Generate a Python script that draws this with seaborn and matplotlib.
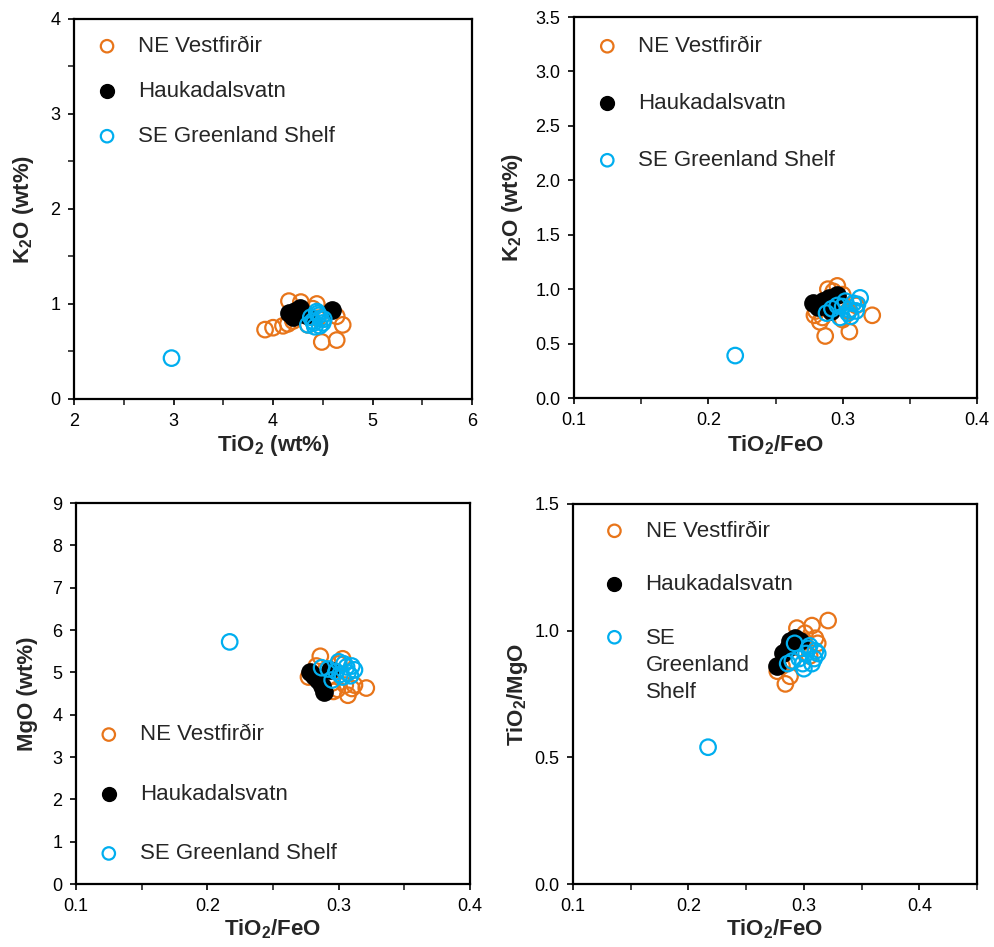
import numpy as np
import pandas as pd
import matplotlib
matplotlib.use("Agg")
import matplotlib.pyplot as plt
import seaborn as sns
from matplotlib.ticker import MultipleLocator, FormatStrFormatter

# ---- data ----
groups = ["NE Vestfirðir", "Haukadalsvatn", "SE Greenland Shelf"]

# panel a: TiO2 vs K2O
a_ne_x = [3.92, 4.00, 4.10, 4.15, 4.16, 4.28, 4.44, 4.49, 4.64, 4.70, 4.64, 4.20, 4.35, 4.40, 4.25, 4.45]
a_ne_y = [0.73, 0.75, 0.77, 0.79, 1.03, 1.02, 1.00, 0.60, 0.62, 0.78, 0.87, 0.82, 0.78, 0.95, 0.90, 0.85]
a_hk_x = [4.16, 4.22, 4.27, 4.33, 4.59, 4.20]
a_hk_y = [0.91, 0.93, 0.96, 0.88, 0.94, 0.86]
a_se_x = [4.35, 4.40, 4.45, 4.48, 4.50, 4.42, 4.38, 4.47, 4.44, 4.51, 4.41, 4.46, 2.98]
a_se_y = [0.78, 0.82, 0.90, 0.85, 0.80, 0.76, 0.86, 0.77, 0.92, 0.84, 0.80, 0.88, 0.43]

# panel b: TiO2/FeO vs K2O
b_ne_x = [0.287, 0.305, 0.322, 0.296, 0.289, 0.283, 0.279, 0.280, 0.300, 0.300, 0.293, 0.310, 0.285, 0.304, 0.298]
b_ne_y = [0.57, 0.61, 0.76, 1.03, 1.00, 0.70, 0.76, 0.80, 0.95, 0.72, 0.98, 0.85, 0.74, 0.80, 0.88]
b_hk_x = [0.278, 0.285, 0.290, 0.296, 0.291, 0.282]
b_hk_y = [0.87, 0.89, 0.92, 0.95, 0.80, 0.84]
b_se_x = [0.288, 0.296, 0.313, 0.305, 0.298, 0.308, 0.302, 0.310, 0.292, 0.306, 0.300, 0.311, 0.304, 0.220]
b_se_y = [0.78, 0.85, 0.92, 0.81, 0.74, 0.87, 0.89, 0.80, 0.82, 0.75, 0.84, 0.86, 0.78, 0.39]

# panel c: TiO2/FeO vs MgO
c_ne_x = [0.321, 0.307, 0.286, 0.303, 0.277, 0.310, 0.299, 0.283, 0.295, 0.305, 0.290, 0.300, 0.312, 0.296]
c_ne_y = [4.63, 4.46, 5.38, 5.32, 4.89, 4.62, 4.60, 5.15, 4.75, 4.70, 5.05, 5.20, 4.70, 4.55]
c_hk_x = [0.278, 0.284, 0.289, 0.293, 0.281, 0.287]
c_hk_y = [5.01, 4.82, 4.53, 5.06, 4.92, 4.68]
c_se_x = [0.287, 0.295, 0.300, 0.306, 0.312, 0.307, 0.303, 0.298, 0.310, 0.304, 0.292, 0.309, 0.301, 0.217]
c_se_y = [5.11, 4.82, 5.25, 5.13, 5.06, 4.99, 4.89, 5.02, 5.15, 5.20, 5.08, 4.92, 4.95, 5.72]

# panel d: TiO2/FeO vs TiO2/MgO
d_ne_x = [0.321, 0.307, 0.294, 0.284, 0.288, 0.277, 0.310, 0.301, 0.281, 0.312, 0.297, 0.305, 0.290, 0.300]
d_ne_y = [1.04, 1.02, 1.01, 0.79, 0.82, 0.84, 0.97, 0.99, 0.86, 0.95, 0.93, 0.90, 0.88, 0.96]
d_hk_x = [0.277, 0.282, 0.288, 0.292, 0.297, 0.286]
d_hk_y = [0.86, 0.91, 0.96, 0.97, 0.96, 0.93]
d_se_x = [0.292, 0.286, 0.299, 0.307, 0.310, 0.312, 0.302, 0.296, 0.305, 0.309, 0.300, 0.290, 0.304, 0.217]
d_se_y = [0.95, 0.87, 0.87, 0.87, 0.92, 0.91, 0.91, 0.89, 0.94, 0.89, 0.85, 0.88, 0.93, 0.54]

orange = "#E8751A"
blue = "#00AEEF"

sns.set_style("ticks")
plt.rcParams["font.family"] = ["Liberation Sans", "DejaVu Sans"]
plt.rcParams["axes.linewidth"] = 1.6
plt.rcParams["xtick.major.width"] = 1.2
plt.rcParams["ytick.major.width"] = 1.2
plt.rcParams["xtick.minor.width"] = 1.2
plt.rcParams["ytick.minor.width"] = 1.2
plt.rcParams["xtick.direction"] = "out"
plt.rcParams["ytick.direction"] = "out"

fig = plt.figure(figsize=(9.95, 9.47), dpi=100)
ax1 = fig.add_axes([0.0744, 0.5787, 0.400, 0.4013])
ax2 = fig.add_axes([0.5769, 0.5797, 0.405, 0.4023])
ax3 = fig.add_axes([0.0764, 0.0665, 0.396, 0.4023])
ax4 = fig.add_axes([0.5759, 0.0665, 0.406, 0.4013])


def draw(ax, ne_x, ne_y, hk_x, hk_y, se_x, se_y):
    sns.scatterplot(x=ne_x, y=ne_y, ax=ax, s=125, facecolors="none", edgecolor=orange,
                    linewidth=1.6, label=groups[0])
    sns.scatterplot(x=hk_x, y=hk_y, ax=ax, s=155, color="black", edgecolor="black",
                    linewidth=1, label=groups[1])
    sns.scatterplot(x=se_x, y=se_y, ax=ax, s=125, facecolors="none", edgecolor=blue,
                    linewidth=1.6, label=groups[2])
    for sp in ax.spines.values():
        sp.set_visible(True)
        sp.set_color("black")
    ax.tick_params(which="major", length=4, labelsize=13, pad=6, colors="black")
    ax.tick_params(which="minor", length=4)


draw(ax1, a_ne_x, a_ne_y, a_hk_x, a_hk_y, a_se_x, a_se_y)
draw(ax2, b_ne_x, b_ne_y, b_hk_x, b_hk_y, b_se_x, b_se_y)
draw(ax3, c_ne_x, c_ne_y, c_hk_x, c_hk_y, c_se_x, c_se_y)
draw(ax4, d_ne_x, d_ne_y, d_hk_x, d_hk_y, d_se_x, d_se_y)

lab = dict(fontsize=16, fontweight="bold")

ax1.set_xlim(2, 6)
ax1.set_ylim(0, 4)
ax1.xaxis.set_major_locator(MultipleLocator(1))
ax1.xaxis.set_minor_locator(MultipleLocator(0.5))
ax1.yaxis.set_major_locator(MultipleLocator(1))
ax1.yaxis.set_minor_locator(MultipleLocator(0.5))
ax1.set_xlabel(r"TiO$_\mathregular{2}$ (wt%)", labelpad=2, **lab)
ax1.set_ylabel(r"K$_\mathregular{2}$O (wt%)", labelpad=10, **lab)

ax2.set_xlim(0.1, 0.4)
ax2.set_ylim(0, 3.5)
ax2.xaxis.set_major_locator(MultipleLocator(0.1))
ax2.xaxis.set_minor_locator(MultipleLocator(0.05))
ax2.yaxis.set_major_locator(MultipleLocator(0.5))
ax2.yaxis.set_major_formatter(FormatStrFormatter("%.1f"))
ax2.set_xlabel(r"TiO$_\mathregular{2}$/FeO", labelpad=3, **lab)
ax2.set_ylabel(r"K$_\mathregular{2}$O (wt%)", labelpad=7, **lab)

ax3.set_xlim(0.1, 0.4)
ax3.set_ylim(0, 9)
ax3.xaxis.set_major_locator(MultipleLocator(0.1))
ax3.xaxis.set_minor_locator(MultipleLocator(0.05))
ax3.yaxis.set_major_locator(MultipleLocator(1))
ax3.set_xlabel(r"TiO$_\mathregular{2}$/FeO", labelpad=2, **lab)
ax3.set_ylabel("MgO (wt%)", labelpad=10, **lab)

ax4.set_xlim(0.1, 0.45)
ax4.set_ylim(0, 1.5)
ax4.set_xticks([0.1, 0.2, 0.3, 0.4])
ax4.xaxis.set_minor_locator(MultipleLocator(0.05))
ax4.yaxis.set_major_locator(MultipleLocator(0.5))
ax4.yaxis.set_major_formatter(FormatStrFormatter("%.1f"))
ax4.set_xlabel(r"TiO$_\mathregular{2}$/FeO", labelpad=2, **lab)
ax4.set_ylabel(r"TiO$_\mathregular{2}$/MgO", labelpad=3, **lab)

leg_kw = dict(loc="upper left", frameon=False, fontsize=16, handlelength=1.0,
              handletextpad=0.9, borderaxespad=0, borderpad=0, markerscale=0.8)
ax1.legend(bbox_to_anchor=(0.055, 0.955), labelspacing=1.08, **leg_kw)
ax2.legend(bbox_to_anchor=(0.055, 0.95), labelspacing=1.62, **leg_kw)
ax3.legend(bbox_to_anchor=(0.055, 0.419), labelspacing=1.73, **leg_kw)

h4, _ = ax4.get_legend_handles_labels()
leg4 = ax4.legend(h4, ["NE Vestfirðir", "Haukadalsvatn", "SE\nGreenland\nShelf"],
                  bbox_to_anchor=(0.075, 0.955), labelspacing=1.45, **leg_kw)
leg4.get_texts()[2].set_linespacing(1.4)
for col in leg4._legend_handle_box.get_children():
    for row in col.get_children():
        row.align = "top"

plt.savefig("out.png", dpi=100)
